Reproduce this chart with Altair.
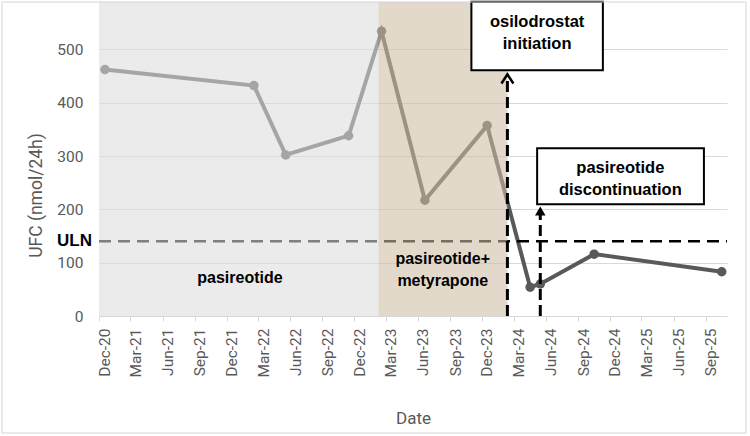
import altair as alt
import pandas as pd

# --- data ---
dates = ["2020-12-18", "2022-02-17", "2022-05-19", "2022-11-15", "2023-02-17",
         "2023-06-21", "2023-12-16", "2024-04-17", "2024-05-16", "2024-10-17",
         "2025-10-17"]
ufc = [462, 432, 302, 338, 534, 217, 357, 54, 60, 116, 83]

uln = 140

phase_start = ["2020-12-01", "2023-02-08"]
phase_end = ["2023-02-08", "2024-02-12"]
phase_color = ["#dcdcdc", "#cdbea3"]

phase_label = ["pasireotide", "pasireotide+\nmetyrapone"]
phase_label_date = ["2022-01-08", "2023-08-11"]
phase_label_value = [71, 106]

osilo_date = "2024-02-12"
osilo_top = 452
chevron_dates = ["2024-01-26", "2024-02-12", "2024-02-29"]
chevron_values = [436, 453, 436]

discont_date = "2024-05-16"
discont_top = 190
discont_tri_value = 197

box_start = ["2023-11-01", "2024-05-07"]
box_end = ["2024-11-11", "2025-08-27"]
box_low = [461, 209.5]
box_high = [589, 314.4]
box_text = ["osilodrostat\ninitiation", "pasireotide\ndiscontinuation"]
box_text_date = ["2024-05-07", "2024-12-31"]
box_text_value = [551.8, 278]

tick_labels = ["Dec-20", "Mar-21", "Jun-21", "Sep-21", "Dec-21", "Mar-22", "Jun-22",
               "Sep-22", "Dec-22", "Mar-23", "Jun-23", "Sep-23", "Dec-23", "Mar-24",
               "Jun-24", "Sep-24", "Dec-24", "Mar-25", "Jun-25", "Sep-25"]
y_ticks = [0, 100, 200, 300, 400, 500]

x_domain = ["2020-12-01", "2025-11-01"]
y_domain = [0, 588.75]

# --- helpers ---
def ms(s):
    return int(pd.Timestamp(s, tz="UTC").value // 10**6)

month_num = {"Jan": 1, "Feb": 2, "Mar": 3, "Apr": 4, "May": 5, "Jun": 6,
             "Jul": 7, "Aug": 8, "Sep": 9, "Oct": 10, "Nov": 11, "Dec": 12}
tick_values = [ms(f"20{t[4:]}-{month_num[t[:3]]:02d}-01") for t in tick_labels]

GREY = "#595959"
BOLD_FONT = "Liberation Sans"
AX_FONT = "Roboto"

xscale = alt.Scale(type="utc", domain=[ms(d) for d in x_domain], nice=False)
yscale = alt.Scale(domain=y_domain, nice=False, zero=False)

xaxis = alt.Axis(values=tick_values, tickCount=40,
                 labelExpr="utcFormat(datum.value, '%b-%y')",
                 labelAngle=270, labelFont=AX_FONT, labelFontSize=15.5,
                 labelColor=GREY, labelPadding=7, labelOffset=5, labelOverlap=False,
                 tickSize=5, tickColor="#d9d9d9", domainColor="#d9d9d9",
                 grid=False, title="Date", titleFont=AX_FONT, titleFontSize=17,
                 titleFontWeight="normal", titleColor=GREY, titleY=102,
                 titleBaseline="middle")
yaxis = alt.Axis(values=y_ticks, labelFont=AX_FONT, labelFontSize=15.5,
                 labelColor=GREY, labelPadding=16, ticks=False, domain=False,
                 grid=True, gridColor="#d9d9d9", gridWidth=1,
                 title="UFC (nmol/24h)", titleFont=AX_FONT, titleFontSize=17.5,
                 titleFontWeight="normal", titleColor=GREY, titleAngle=270,
                 titleX=-63, titleY=193, titleAlign="center", titleBaseline="middle")

df = pd.DataFrame({"date": [ms(d) for d in dates], "ufc": ufc})
X = alt.X("date:T", scale=xscale, axis=xaxis)
Y = alt.Y("ufc:Q", scale=yscale, axis=yaxis)

line = alt.Chart(df).mark_line(color=GREY, strokeWidth=4).encode(x=X, y=Y)
pts = alt.Chart(df).mark_circle(color=GREY, size=90, opacity=1).encode(
    x=alt.X("date:T", scale=xscale), y=alt.Y("ufc:Q", scale=yscale))

uln_df = pd.DataFrame({"s": [ms(x_domain[0])], "e": [ms(x_domain[1])], "v": [uln]})
uln_rule = alt.Chart(uln_df).mark_rule(color="black", strokeWidth=2.5,
                                       strokeDash=[12, 7]).encode(
    x=alt.X("s:T", scale=xscale), x2="e:T", y=alt.Y("v:Q", scale=yscale))
uln_text = alt.Chart(uln_df).mark_text(text="ULN", font=BOLD_FONT, fontSize=17,
                                       fontWeight="bold", align="right",
                                       baseline="middle", color="black").encode(
    x=alt.value(-7), y=alt.Y("v:Q", scale=yscale))

phase_df = pd.DataFrame({"s": [ms(d) for d in phase_start],
                         "e": [ms(d) for d in phase_end],
                         "c": phase_color,
                         "lo": [0, 0], "hi": [y_domain[1]] * 2})
phases = alt.Chart(phase_df).mark_rect(opacity=0.58).encode(
    x=alt.X("s:T", scale=xscale), x2="e:T",
    y=alt.Y("lo:Q", scale=yscale), y2="hi:Q",
    color=alt.Color("c:N", scale=None))

plab_df = pd.DataFrame({"d": [ms(d) for d in phase_label_date],
                        "v": phase_label_value, "t": phase_label})
plabels = alt.Chart(plab_df).mark_text(font=BOLD_FONT, fontSize=16, fontWeight="bold",
                                       color="black", lineBreak="\n", lineHeight=21.7,
                                       align="center", baseline="middle").encode(
    x=alt.X("d:T", scale=xscale), y=alt.Y("v:Q", scale=yscale), text="t:N")

vl_df = pd.DataFrame({"d": [ms(osilo_date), ms(discont_date)], "lo": [0, 0],
                      "hi": [osilo_top, discont_top]})
vlines = alt.Chart(vl_df).mark_rule(color="black", strokeWidth=3,
                                    strokeDash=[11, 5]).encode(
    x=alt.X("d:T", scale=xscale), y=alt.Y("lo:Q", scale=yscale), y2="hi:Q")

chev_df = pd.DataFrame({"d": [ms(d) for d in chevron_dates], "v": chevron_values})
chevron = alt.Chart(chev_df).mark_line(color="black", strokeWidth=2.5,
                                       strokeJoin="miter").encode(
    x=alt.X("d:T", scale=xscale), y=alt.Y("v:Q", scale=yscale))

tri_df = pd.DataFrame({"d": [ms(discont_date)], "v": [discont_tri_value]})
tri = alt.Chart(tri_df).mark_point(shape="triangle-up", filled=True, size=110,
                                   color="black", opacity=1).encode(
    x=alt.X("d:T", scale=xscale), y=alt.Y("v:Q", scale=yscale))

box_df = pd.DataFrame({"s": [ms(d) for d in box_start], "e": [ms(d) for d in box_end],
                       "lo": box_low, "hi": box_high})
boxes = alt.Chart(box_df).mark_rect(fill="white", stroke="black", strokeWidth=2).encode(
    x=alt.X("s:T", scale=xscale), x2="e:T",
    y=alt.Y("lo:Q", scale=yscale), y2="hi:Q")

bt_df = pd.DataFrame({"d": [ms(d) for d in box_text_date], "v": box_text_value,
                      "t": box_text})
btext = alt.Chart(bt_df).mark_text(font=BOLD_FONT, fontSize=16.5, fontWeight="bold",
                                   color="black", lineBreak="\n", lineHeight=22,
                                   align="center", baseline="middle").encode(
    x=alt.X("d:T", scale=xscale), y=alt.Y("v:Q", scale=yscale), text="t:N")

frame = alt.Chart(pd.DataFrame({"a": [0]})).mark_rect(
    fill=None, stroke="#d4d4d4", strokeWidth=1).encode(
    x=alt.value(-97), x2=alt.value(647), y=alt.value(0), y2=alt.value(431))

chart = alt.layer(
    line, pts, uln_rule, phases, plabels, uln_text, vlines, chevron, tri,
    boxes, btext, frame
).properties(
    width=628, height=314,
    autosize=alt.AutoSizeParams(type="none"),
    padding={"left": 99, "top": 2, "right": 23, "bottom": 120},
    background="white",
).configure_view(stroke=None)

chart.save("out.html", embed_options={"renderer": "svg", "actions": False})
